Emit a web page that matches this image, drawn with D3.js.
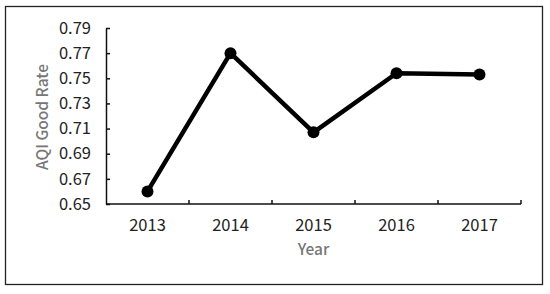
<!DOCTYPE html>
<meta charset="utf-8">
<script src="https://d3js.org/d3.v7.min.js"></script>
<style>
  body { margin: 0; background: #fff; }
  text { font-family: "Noto Sans CJK SC", "Noto Sans", sans-serif; }
</style>
<div id="my_dataviz"></div>
<script>

// Data
var years = ["2013", "2014", "2015", "2016", "2017"];
var goodRate = [0.660, 0.770, 0.707, 0.754, 0.753];
var yTicks = [0.65, 0.67, 0.69, 0.71, 0.73, 0.75, 0.77, 0.79];

var W = 550, H = 294;
var margin = { top: 28, left: 106, right: 29, bottom: 90 };
var width = 521 - margin.left,
    height = 204 - margin.top;

var svg = d3.select("#my_dataviz")
  .append("svg")
    .attr("width", W)
    .attr("height", H);

// outer frame
svg.append("rect")
  .attr("x", 5.5).attr("y", 6.5)
  .attr("width", 537).attr("height", 278)
  .attr("fill", "none")
  .attr("stroke", "#222")
  .attr("stroke-width", 1.3);

var g = svg.append("g")
  .attr("transform", "translate(" + margin.left + "," + margin.top + ")");

// Scales
var x = d3.scaleBand().domain(years).range([0, width]);
var y = d3.scaleLinear().domain([0.65, 0.79]).range([height, 0]);

// Y axis
var yAxis = g.append("g")
  .call(d3.axisLeft(y).tickValues(yTicks).tickFormat(d3.format(".2f")).tickSizeInner(-4).tickSizeOuter(0).tickPadding(15));
yAxis.select(".domain").attr("stroke", "#111").attr("stroke-width", 1.5);
yAxis.selectAll(".tick line").attr("stroke", "#111").attr("stroke-width", 1.5);
yAxis.selectAll("text").attr("font-size", 16.5).attr("fill", "#222")
  .style("font-family", "'Noto Sans CJK SC', sans-serif");

// X axis
var xAxisG = g.append("g").attr("transform", "translate(0," + height + ")");
xAxisG.append("line")
  .attr("x1", 0).attr("x2", width)
  .attr("stroke", "#111").attr("stroke-width", 1.5);
xAxisG.selectAll(".xtick")
  .data(years)
  .enter().append("line")
    .attr("x1", function(d) { return x(d) + x.bandwidth(); })
    .attr("x2", function(d) { return x(d) + x.bandwidth(); })
    .attr("y1", 0).attr("y2", -4)
    .attr("stroke", "#111").attr("stroke-width", 1.5);
xAxisG.selectAll(".xlabel")
  .data(years)
  .enter().append("text")
    .attr("x", function(d) { return x(d) + x.bandwidth() / 2; })
    .attr("y", 27)
    .attr("text-anchor", "middle")
    .attr("font-size", 16.5)
    .attr("fill", "#222")
    .text(function(d) { return d; });

// Axis titles
svg.append("text")
  .attr("x", margin.left + x("2015") + x.bandwidth() / 2)
  .attr("y", 255)
  .attr("text-anchor", "middle")
  .attr("font-size", 15.5)
  .attr("font-weight", 500)
  .attr("fill", "#777")
  .text("Year");

svg.append("text")
  .attr("transform", "translate(48," + (margin.top + height / 2 + 1) + ") rotate(-90)")
  .attr("text-anchor", "middle")
  .attr("font-size", 15.5)
  .attr("font-weight", 500)
  .attr("fill", "#777")
  .text("AQI Good Rate");

// Line
var data = years.map(function(d, i) { return { year: d, value: goodRate[i] }; });
var line = d3.line()
  .x(function(d) { return x(d.year) + x.bandwidth() / 2; })
  .y(function(d) { return y(d.value); });

g.append("path")
  .datum(data)
  .attr("d", line)
  .attr("fill", "none")
  .attr("stroke", "#000")
  .attr("stroke-width", 4.5)
  .attr("stroke-linejoin", "round");

g.selectAll(".dot")
  .data(data)
  .enter().append("circle")
    .attr("cx", function(d) { return x(d.year) + x.bandwidth() / 2; })
    .attr("cy", function(d) { return y(d.value); })
    .attr("r", 6)
    .attr("fill", "#000");

</script>
